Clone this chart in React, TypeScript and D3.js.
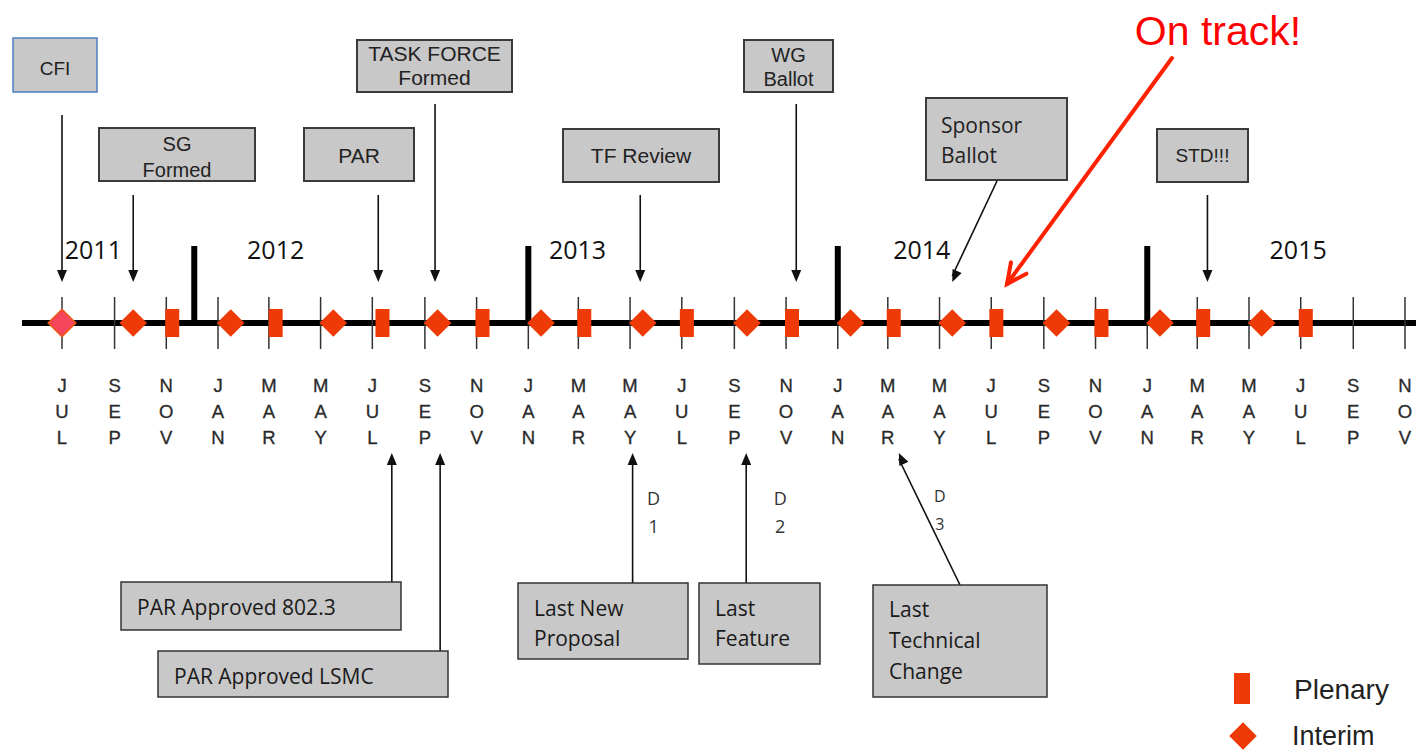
import React from "react";
import * as d3 from "d3";

// ---------- DATA ----------
const tickMonths = [
  "2011-07", "2011-09", "2011-11", "2012-01", "2012-03", "2012-05", "2012-07", "2012-09", "2012-11",
  "2013-01", "2013-03", "2013-05", "2013-07", "2013-09", "2013-11", "2014-01", "2014-03", "2014-05",
  "2014-07", "2014-09", "2014-11", "2015-01", "2015-03", "2015-05", "2015-07", "2015-09", "2015-11",
];
const monthLabels = [
  "JUL", "SEP", "NOV", "JAN", "MAR", "MAY", "JUL", "SEP", "NOV",
  "JAN", "MAR", "MAY", "JUL", "SEP", "NOV", "JAN", "MAR", "MAY",
  "JUL", "SEP", "NOV", "JAN", "MAR", "MAY", "JUL", "SEP", "NOV",
];
const cfiMeeting = ["2011-07-01"];
const interimMeetings = [
  "2011-09-23", "2012-01-16", "2012-05-16", "2012-09-16", "2013-01-16", "2013-05-16", "2013-09-16",
  "2014-01-16", "2014-05-16", "2014-09-16", "2015-01-16", "2015-05-16",
];
const plenaryMeetings = [
  "2011-11-08", "2012-03-09", "2012-07-13", "2012-11-08", "2013-03-08", "2013-07-07", "2013-11-08",
  "2014-03-08", "2014-07-07", "2014-11-08", "2015-03-08", "2015-07-07",
];
const yearSeparators = ["2011-12-04", "2013-01-01", "2014-01-01", "2015-01-01"];
const yearNames = ["2011", "2012", "2013", "2014", "2015"];
const yearLabelDates = ["2011-08-07", "2012-03-09", "2013-02-28", "2014-04-10", "2015-06-28"];

const topEventNames = [
  ["CFI"], ["SG", "Formed"], ["PAR"], ["TASK FORCE", "Formed"], ["TF Review"],
  ["WG", "Ballot"], ["Sponsor", "Ballot"], ["STD!!!"],
];
const topEventDates = [
  "2011-07-01", "2011-09-23", "2012-07-08", "2012-09-13", "2013-05-13",
  "2013-11-13", "2014-05-16", "2015-03-13",
];
const bottomEventNames = [
  ["PAR Approved 802.3"], ["PAR Approved LSMC"], ["Last New", "Proposal"], ["Last", "Feature"],
  ["Last", "Technical", "Change"],
];
const bottomEventDates = ["2012-07-24", "2012-09-19", "2013-05-04", "2013-09-15", "2014-03-14"];
const draftNames = ["D1", "D2", "D3"];
const legendNames = ["Plenary", "Interim"];
const calloutText = "On track!";

// ---------- LAYOUT (positions / styles, not data) ----------
const topLayout = [
  { x0: 13, x1: 97, y0: 38, y1: 92, ay: 115, bx: 0, align: "middle", ly: [75], blue: true, fs: 19 },
  { x0: 99, x1: 255, y0: 128, y1: 181, ay: 195, bx: 0, align: "middle", ly: [151, 177], fs: 20 },
  { x0: 304, x1: 414, y0: 128, y1: 181, ay: 195, bx: 0, align: "middle", ly: [163], fs: 21 },
  { x0: 357, x1: 512, y0: 40, y1: 92, ay: 104, bx: 0, align: "middle", ly: [61, 85], fs: 21 },
  { x0: 563, x1: 719, y0: 129, y1: 182, ay: 195, bx: 0, align: "middle", ly: [163], fs: 21 },
  { x0: 744, x1: 833, y0: 40, y1: 92, ay: 104, bx: 0, align: "middle", ly: [62, 86], fs: 20 },
  { x0: 926, x1: 1067, y0: 98, y1: 180, ay: 181, bx: 997, align: "start", ly: [133, 163], fs: 21 },
  { x0: 1157, x1: 1248, y0: 129, y1: 182, ay: 195, bx: 0, align: "middle", ly: [162], fs: 19 },
];
const bottomLayout = [
  { x0: 121, x1: 401, y0: 582, y1: 630, bx: 0, ly: [615] },
  { x0: 158, x1: 448, y0: 651, y1: 697, bx: 0, ly: [684] },
  { x0: 518, x1: 688, y0: 583, y1: 659, bx: 0, ly: [616, 646] },
  { x0: 699, x1: 820, y0: 583, y1: 664, bx: 0, ly: [616, 646] },
  { x0: 873, x1: 1047, y0: 585, y1: 697, bx: 960, ly: [617, 648, 679] },
];
const draftLayout = [
  { dx: 21, y: 505 },
  { dx: 34, y: 505 },
  { dx: 41, y: 502 },
];

const W = 1416;
const H = 752;
const LINE_Y = 323;
const ORANGE = "#ee3a06";

const parse = d3.timeParse("%Y-%m-%d");
const parseMonth = d3.timeParse("%Y-%m");

function arrowHead(x1: number, y1: number, x2: number, y2: number, len = 12, half = 5) {
  const ang = Math.atan2(y2 - y1, x2 - x1);
  const bx = x2 - len * Math.cos(ang);
  const by = y2 - len * Math.sin(ang);
  const px = -Math.sin(ang) * half;
  const py = Math.cos(ang) * half;
  return `M${x2},${y2}L${bx + px},${by + py}L${bx - px},${by - py}Z`;
}

export default function App() {
  const tickDates = tickMonths.map((m) => parseMonth(m) as Date);
  const x = d3
    .scaleTime()
    .domain([tickDates[0], tickDates[tickDates.length - 1]])
    .range([62, 1405]);

  const sansA = "'Liberation Sans', Arial, sans-serif";
  const sansC = "'Open Sans', 'Noto Sans', sans-serif";

  const diamond = d3.symbol().type(d3.symbolSquare).size(380)();

  return (
    <svg width={W} height={H} style={{ position: "absolute", left: 0, top: 0, background: "#fff" }}>
      <rect x={0} y={0} width={W} height={H} fill="#fff" />

      {/* main line */}
      <line x1={22} x2={W} y1={LINE_Y} y2={LINE_Y} stroke="#000" strokeWidth={6} />

      {/* month ticks */}
      {tickDates.map((d, i) => (
        <line key={"t" + i} x1={x(d)} x2={x(d)} y1={297} y2={349} stroke="#333" strokeWidth={1.5} />
      ))}
      {tickDates.map((d, i) => (
        <g key={"l" + i}>
          {monthLabels[i].split("").map((ch, j) => (
            <text
              key={j}
              x={x(d)}
              y={392 + j * 26}
              textAnchor="middle"
              fontFamily={sansA}
              fontSize={18.5}
              fill="#2a2a2a"
              stroke="#2a2a2a"
              strokeWidth={0.3}
            >
              {ch}
            </text>
          ))}
        </g>
      ))}

      {/* year separators */}
      {yearSeparators.map((s, i) => {
        const xx = x(parse(s) as Date);
        return <rect key={"ys" + i} x={xx - 3} y={246} width={6} height={LINE_Y - 246} fill="#000" />;
      })}
      {yearNames.map((n, i) => (
        <text
          key={"yn" + i}
          x={x(parse(yearLabelDates[i]) as Date)}
          y={259}
          textAnchor="middle"
          fontFamily={sansC}
          fontSize={25}
          fill="#111"
        >
          {n}
        </text>
      ))}

      {/* meetings */}
      {plenaryMeetings.map((s, i) => {
        const xx = x(parse(s) as Date);
        return <rect key={"p" + i} x={xx - 7} y={LINE_Y - 14} width={14} height={28} fill={ORANGE} />;
      })}
      {interimMeetings.map((s, i) => {
        const xx = x(parse(s) as Date);
        return (
          <path key={"i" + i} d={diamond as string} transform={`translate(${xx},${LINE_Y}) rotate(45)`} fill={ORANGE} />
        );
      })}
      {cfiMeeting.map((s, i) => {
        const xx = x(parse(s) as Date);
        return (
          <path
            key={"c" + i}
            d={diamond as string}
            transform={`translate(${xx},${LINE_Y}) rotate(45)`}
            fill="#f5455a"
            stroke="#ee5a10"
            strokeWidth={1.5}
          />
        );
      })}

      {/* top events */}
      {topEventNames.map((lines, i) => {
        const L = topLayout[i];
        const tx = x(parse(topEventDates[i]) as Date);
        const sx = L.bx || tx;
        const ty = 282;
        const cx = (L.x0 + L.x1) / 2;
        return (
          <g key={"te" + i}>
            <rect
              x={L.x0}
              y={L.y0}
              width={L.x1 - L.x0}
              height={L.y1 - L.y0}
              fill="#c8c8c8"
              stroke={L.blue ? "#4f7fbf" : "#3a3a3a"}
              strokeWidth={L.blue ? 1.5 : 2}
            />
            {lines.map((t, j) => (
              <text
                key={j}
                x={L.align === "start" ? L.x0 + 15 : cx}
                y={L.ly[j]}
                textAnchor={L.align === "start" ? "start" : "middle"}
                fontFamily={L.align === "start" ? sansC : sansA}
                fontSize={L.fs}
                fill="#222"
              >
                {t}
              </text>
            ))}
            <line x1={sx} y1={L.ay} x2={tx} y2={ty - 6} stroke="#111" strokeWidth={1.6} />
            <path d={arrowHead(sx, L.ay, tx, ty)} fill="#111" />
          </g>
        );
      })}

      {/* bottom events */}
      {bottomEventNames.map((lines, i) => {
        const L = bottomLayout[i];
        const tx = x(parse(bottomEventDates[i]) as Date);
        const sx = L.bx || tx;
        const ty = 453;
        return (
          <g key={"be" + i}>
            <line x1={sx} y1={L.y0} x2={tx} y2={ty + 6} stroke="#111" strokeWidth={1.6} />
            <path d={arrowHead(sx, L.y0, tx, ty)} fill="#111" />
            <rect
              x={L.x0}
              y={L.y0}
              width={L.x1 - L.x0}
              height={L.y1 - L.y0}
              fill="#c8c8c8"
              stroke="#333"
              strokeWidth={1.5}
            />
            {lines.map((t, j) => (
              <text key={j} x={L.x0 + 16} y={L.ly[j]} fontFamily={sansC} fontSize={21} fill="#1a1a1a">
                {t}
              </text>
            ))}
          </g>
        );
      })}

      {/* draft labels */}
      {draftNames.map((dn, i) => {
        const L = draftLayout[i];
        const xx = x(parse(bottomEventDates[i + 2]) as Date) + L.dx;
        return (
          <g key={"d" + i}>
            {dn.split("").map((ch, j) => (
              <text
                key={j}
                x={xx}
                y={L.y + j * 28}
                textAnchor="middle"
                fontFamily={sansC}
                fontSize={i === 2 ? 16 : 18}
                fill="#333"
              >
                {ch}
              </text>
            ))}
          </g>
        );
      })}

      {/* On track callout */}
      <text x={1218} y={45} textAnchor="middle" fontFamily={sansA} fontSize={41} fill="#ff0000">
        {calloutText}
      </text>
      <line x1={1172} y1={58} x2={1007} y2={284} stroke="#ff2200" strokeWidth={4} strokeLinecap="round" />
      <path
        d={(() => {
          const ang = Math.atan2(284 - 58, 1007 - 1172);
          const tip = [1007, 284];
          const l = 22;
          const a1 = ang + Math.PI - 0.45;
          const a2 = ang + Math.PI + 0.45;
          return `M${tip[0] + l * Math.cos(a1)},${tip[1] + l * Math.sin(a1)}L${tip[0]},${tip[1]}L${
            tip[0] + l * Math.cos(a2)
          },${tip[1] + l * Math.sin(a2)}`;
        })()}
        fill="none"
        stroke="#ff2200"
        strokeWidth={4}
        strokeLinecap="round"
        strokeLinejoin="miter"
      />

      {/* legend */}
      <rect x={1234} y={673} width={16} height={31} fill={ORANGE} />
      <text x={1294} y={699} fontFamily={sansA} fontSize={28} fill="#222">
        {legendNames[0]}
      </text>
      <path d={diamond as string} transform={`translate(1243,736) rotate(45)`} fill={ORANGE} />
      <text x={1292} y={745} fontFamily={sansA} fontSize={27} fill="#222">
        {legendNames[1]}
      </text>
    </svg>
  );
}
